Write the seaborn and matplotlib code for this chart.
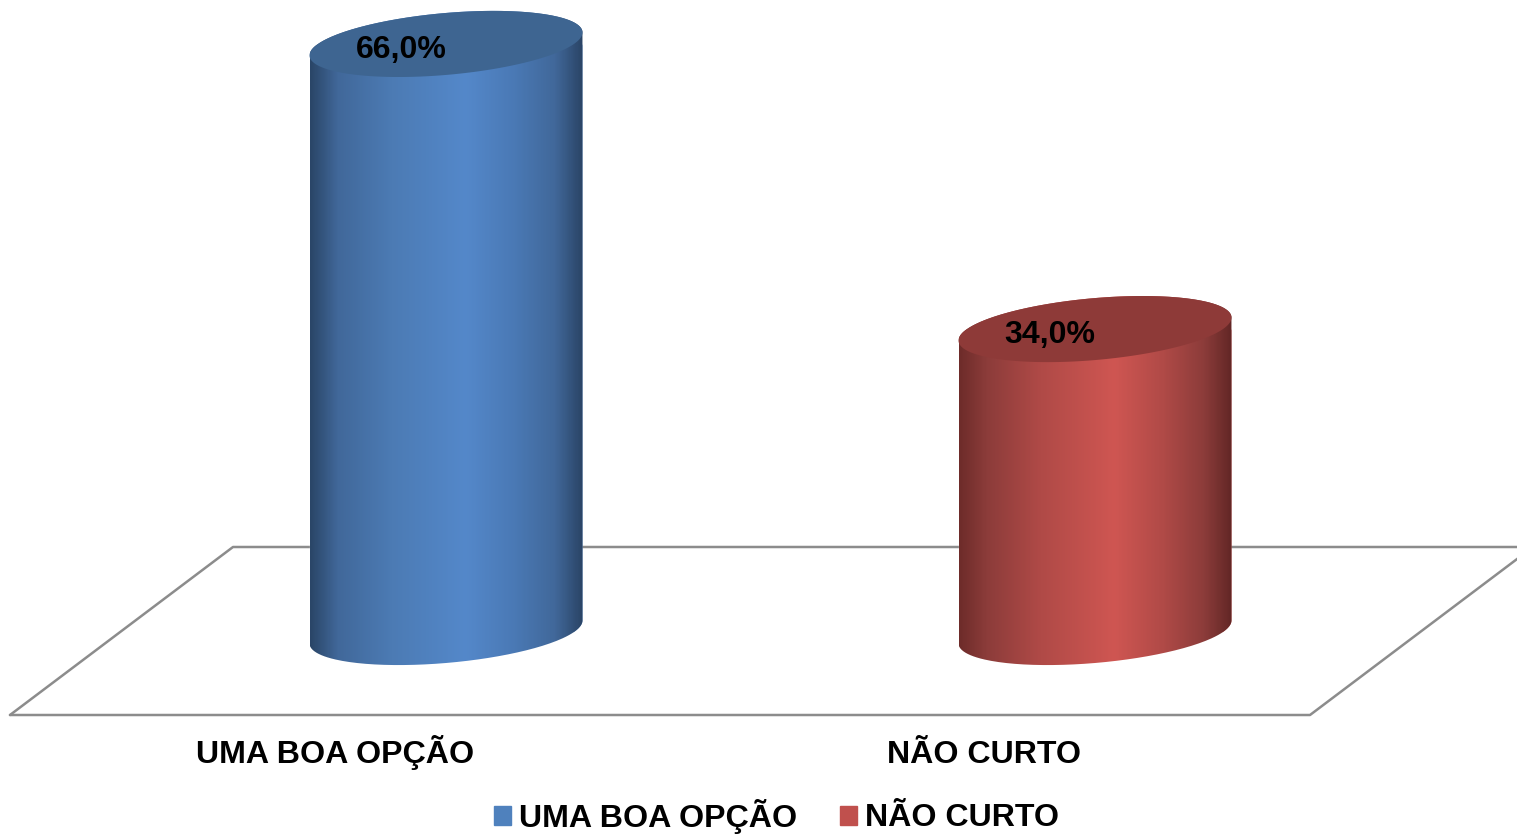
import numpy as np
import pandas as pd
import seaborn as sns
import matplotlib
matplotlib.use("Agg")
import matplotlib.pyplot as plt
from matplotlib.path import Path
from matplotlib.patches import PathPatch
from matplotlib.lines import Line2D
from matplotlib.colors import LinearSegmentedColormap
from matplotlib.transforms import ScaledTranslation

categories = ["UMA BOA OPÇÃO", "NÃO CURTO"]
values = [66.0, 34.0]
legend_colors = ["#4F81BD", "#C0504D"]
top_colors = ["#3E6591", "#8E3A38"]
gradient_stops = [0.0, 0.1, 0.3, 0.57, 0.75, 0.9, 1.0]
gradients = [
    ["#2A4668", "#41689A", "#4C7BB4", "#5488CA", "#4A79B5", "#41689A", "#2B4567"],
    ["#6E2C2A", "#8C3C3A", "#B04A47", "#CF5652", "#B04A47", "#8C3C3A", "#632726"],
]

W, H, DPI = 1517, 834, 100
FLOOR_BOTTOM = 715
BASE_Y = 632
PX_PER_X = 649.0
PX_PER_Y = 8.91
X0 = 446
BAR_WIDTH = 273 / PX_PER_X
ELLIPSE_B = 31 / PX_PER_Y
SHEAR = 11.5 / PX_PER_Y

sns.set_theme(style="white")
plt.rcParams["font.family"] = ["Liberation Sans", "DejaVu Sans"]
plt.rcParams["font.weight"] = "bold"
FS = 23.1

fig = plt.figure(figsize=(W / DPI, H / DPI), dpi=DPI, facecolor="white")
ax = fig.add_axes([0, 1 - FLOOR_BOTTOM / H, 1, FLOOR_BOTTOM / H])
ax.patch.set_alpha(0)

df = pd.DataFrame({"cat": categories, "val": values})
sns.barplot(data=df, x="cat", y="val", hue="cat", hue_order=categories, palette=legend_colors,
            width=BAR_WIDTH, dodge=False, legend=False, saturation=1, ax=ax, zorder=3)

xlim = (-X0 / PX_PER_X, (W - X0) / PX_PER_X)
ylim = (-(FLOOR_BOTTOM - BASE_Y) / PX_PER_Y, BASE_Y / PX_PER_Y)


def px(x, y):
    return (x / W, (FLOOR_BOTTOM - y) / FLOOR_BOTTOM)


# floor of the 3D plot
floor = [px(10, FLOOR_BOTTOM), px(233, 547), px(1517, 547)]
ax.add_line(Line2D(*zip(*floor), transform=ax.transAxes, color="#8C8C8C", lw=1.8, clip_on=False, zorder=1))
floor2 = [px(10, FLOOR_BOTTOM), px(1310, FLOOR_BOTTOM), px(1533, 547)]
ax.add_line(Line2D(*zip(*floor2), transform=ax.transAxes, color="#8C8C8C", lw=1.8, clip_on=False, zorder=1))


def rim(cx, a, level, angles):
    """Tilted ellipse: the left side sits lower than the right side."""
    return (cx + a * np.cos(angles),
            level + SHEAR * np.cos(angles) + ELLIPSE_B * np.sin(angles))


bars = [c[0] for c in ax.containers]
for bar, val, stops, top in zip(bars, values, gradients, top_colors):
    x0 = bar.get_x()
    w = bar.get_width()
    cx, a = x0 + w / 2, w / 2
    bx, by = rim(cx, a, 0, np.linspace(np.pi, 2 * np.pi, 121))
    tx, ty = rim(cx, a, val, np.linspace(0, np.pi, 121))
    verts = np.column_stack([np.r_[bx, tx, bx[0]], np.r_[by, ty, by[0]]])
    clip = PathPatch(Path(verts), transform=ax.transData, facecolor="none", edgecolor="none")
    ax.add_patch(clip)
    bar.set_clip_path(clip)
    cmap = LinearSegmentedColormap.from_list("cyl", list(zip(gradient_stops, stops)))
    im = ax.imshow(np.linspace(0, 1, 300)[None, :], cmap=cmap, vmin=0, vmax=1, aspect="auto",
                   extent=(x0, x0 + w, -ELLIPSE_B * 2, val + ELLIPSE_B * 2), zorder=4)
    im.set_clip_path(clip)
    ex, ey = rim(cx, a, val, np.linspace(0, 2 * np.pi, 241))
    ax.fill(ex, ey, color=top, lw=0, zorder=5)

for i, val in enumerate(values):
    ax.annotate(f"{val:.1f}".replace(".", ",") + "%", (i, val), xytext=(-45 * 72 / DPI, -6 * 72 / DPI),
                textcoords="offset points", ha="center", va="center", fontsize=FS, fontweight="bold",
                color="black", zorder=6)

ax.set_xlim(xlim)
ax.set_ylim(ylim)
ax.set_xlabel("")
ax.set_ylabel("")
ax.set_yticks([])
ax.set_xticks(range(len(categories)))
ax.set_xticklabels(categories, fontsize=FS, fontweight="bold", color="black", va="baseline")
ax.tick_params(axis="x", length=0, pad=48 * 72 / DPI)
shift = ScaledTranslation(-111 / DPI, 0, fig.dpi_scale_trans)
for lab in ax.get_xticklabels():
    lab.set_transform(lab.get_transform() + shift)
sns.despine(ax=ax, left=True, bottom=True)

handles = [plt.Rectangle((0, 0), 1, 1, color=c) for c in legend_colors]
leg = fig.legend(handles, categories, loc="center", bbox_to_anchor=(776.5 / W, 1 - 816 / H), ncol=2, frameon=False,
                 fontsize=FS, labelcolor="black", handlelength=0.53, handleheight=0.53, handletextpad=0.25,
                 columnspacing=1.32, borderpad=0, borderaxespad=0)

fig.savefig("out.png", dpi=DPI, facecolor="white")
